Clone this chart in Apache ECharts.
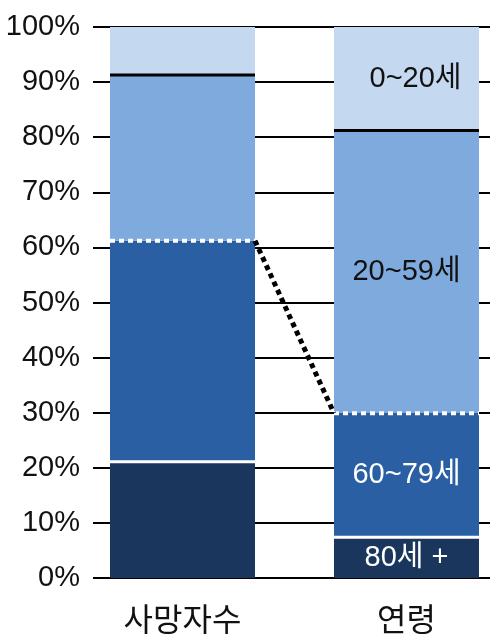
<!DOCTYPE html>
<html>
<head>
<meta charset="utf-8">
<script src="https://cdn.jsdelivr.net/npm/echarts@6/dist/echarts.min.js"></script>
<style>
  html, body { margin: 0; padding: 0; background: #fff; }
  #chart { width: 490px; height: 634px; }
</style>
</head>
<body>
<div id="chart"></div>
<script>
// Share (%) of deaths vs. population by age group
const categories = ['사망자수', '연령'];
const ageGroups = ['80세 +', '60~79세', '20~59세', '0~20세'];
const share80plus = [21.1, 7.4];
const share60to79 = [40.1, 22.5];
const share20to59 = [30.1, 51.3];
const share0to20 = [8.7, 18.8];
const yTickLabels = ['0%', '10%', '20%', '30%', '40%', '50%', '60%', '70%', '80%', '90%', '100%'];

const segments = [share80plus, share60to79, share20to59, share0to20];
const colors = ['#1b365d', '#2a5fa4', '#7eaadd', '#c4d8f0'];
const labelColors = ['#ffffff', '#ffffff', '#111111', '#111111'];
const BAR_W = 145;
const NUM_FONT = "'Liberation Sans Narrow', 'Liberation Sans', 'Noto Sans CJK KR', sans-serif";

// cumulative tops of each segment, per category
const tops = segments.map((_, s) =>
  categories.map((_, c) => segments.slice(0, s + 1).reduce((a, arr) => a + arr[c], 0))
);

// separator lines at the top of the three lower segments
// kind 0: white solid, 1: white dotted, 2: black solid
const separatorData = [];
for (let s = 0; s < 3; s++) {
  categories.forEach((_, c) => separatorData.push([c, tops[s][c], s]));
}
const separatorStyles = [
  { stroke: '#ffffff', lineWidth: 3 },
  { stroke: '#ffffff', lineWidth: 4, lineDash: [5, 4] },
  { stroke: '#000000', lineWidth: 3 }
];

const barSeries = segments.map((arr, s) => ({
  name: ageGroups[s],
  type: 'bar',
  stack: 'total',
  xAxisIndex: 1,
  yAxisIndex: 1,
  barWidth: BAR_W,
  itemStyle: { color: colors[s] },
  data: arr.map((v, c) => ({
    value: v,
    label: {
      show: c === 1,
      position: 'inside',
      formatter: ageGroups[s],
      color: labelColors[s],
      fontSize: 29,
      fontFamily: NUM_FONT,
      offset: s === 3 ? [9, 0] : [0, 0]
    }
  }))
}));

const chart = echarts.init(document.getElementById('chart'), null, { renderer: 'canvas' });
chart.setOption({
  animation: false,
  backgroundColor: '#ffffff',
  grid: [
    { left: 93, right: 0, top: 27, bottom: 56, containLabel: false, outerBoundsMode: 'none' },
    { left: 70.5, width: 448, top: 27, bottom: 56, containLabel: false, outerBoundsMode: 'none' }
  ],
  xAxis: [
    { gridIndex: 0, type: 'value', show: false },
    {
      gridIndex: 1,
      type: 'category',
      data: categories,
      axisLine: { show: false },
      axisTick: { show: false },
      axisLabel: {
        margin: 25,
        fontSize: 32,
        color: '#111111',
        fontFamily: "'Noto Sans CJK KR', sans-serif"
      }
    }
  ],
  yAxis: [
    {
      gridIndex: 0,
      type: 'value',
      min: 0,
      max: 100,
      interval: 10,
      axisLine: { show: false },
      axisTick: { show: false },
      splitLine: { show: true, lineStyle: { color: '#000000', width: 2 } },
      axisLabel: {
        margin: 13,
        fontSize: 29,
        color: '#111111',
        fontFamily: NUM_FONT,
        formatter: v => yTickLabels[Math.round(v / 10)]
      }
    },
    { gridIndex: 1, type: 'value', min: 0, max: 100, show: false }
  ],
  series: [
    ...barSeries,
    {
      type: 'custom',
      xAxisIndex: 1,
      yAxisIndex: 1,
      z: 5,
      silent: true,
      data: separatorData,
      renderItem: (params, api) => {
        const p = api.coord([api.value(0), api.value(1)]);
        const st = separatorStyles[api.value(2)];
        return {
          type: 'line',
          shape: { x1: p[0] - BAR_W / 2, y1: p[1], x2: p[0] + BAR_W / 2, y2: p[1] },
          style: Object.assign({ fill: null }, st)
        };
      }
    },
    {
      // dotted connector between the 60+ tops of the two bars
      type: 'custom',
      xAxisIndex: 1,
      yAxisIndex: 1,
      z: 6,
      silent: true,
      dimensions: ['c0', 'v0', 'c1', 'v1'],
      encode: { x: 0, y: 1 },
      data: [[0, tops[1][0], 1, tops[1][1]]],
      renderItem: (params, api) => {
        const a = api.coord([api.value(0), api.value(1)]);
        const b = api.coord([api.value(2), api.value(3)]);
        return {
          type: 'line',
          shape: { x1: a[0] + BAR_W / 2, y1: a[1], x2: b[0] - BAR_W / 2, y2: b[1] },
          style: { stroke: '#000000', lineWidth: 5, lineDash: [5, 4], fill: null }
        };
      }
    }
  ]
});
</script>
</body>
</html>
